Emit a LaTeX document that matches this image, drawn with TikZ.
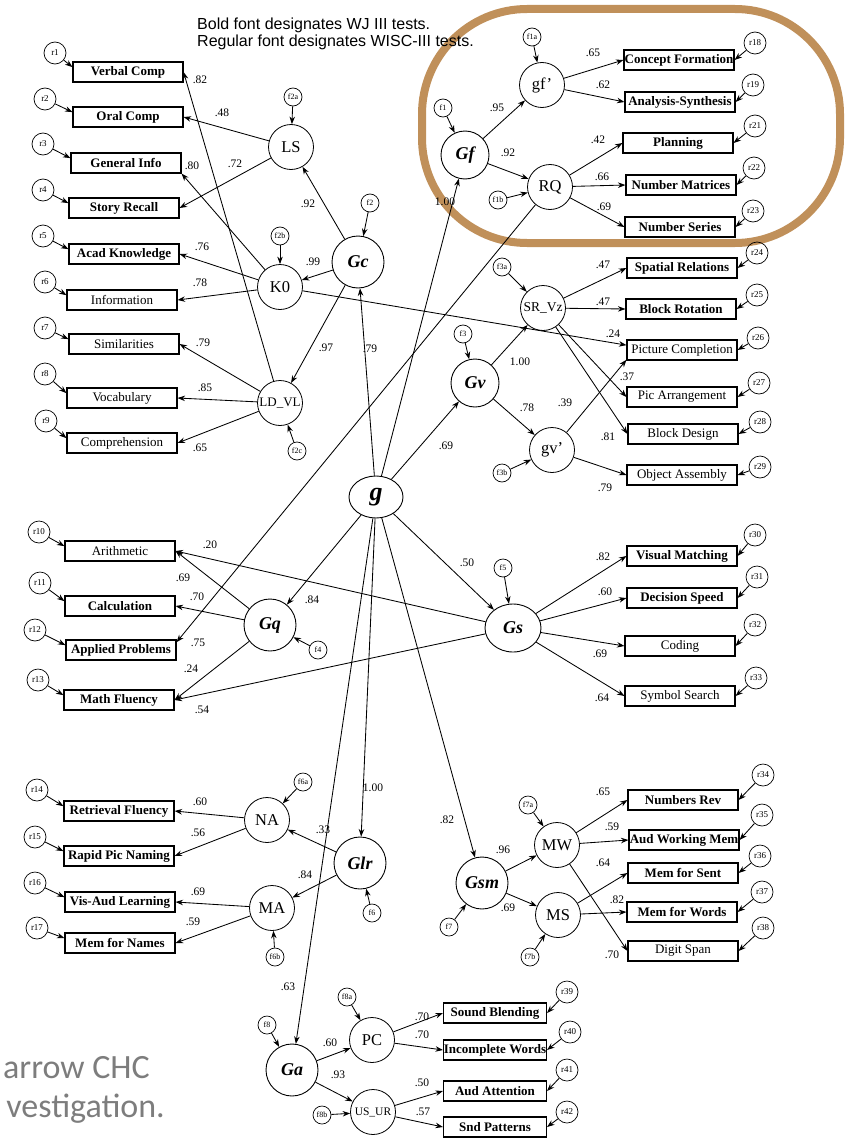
\documentclass[tikz,border=0pt]{standalone}
\usepackage{fontspec}
\setmainfont{Liberation Serif}
\newfontfamily\headfont{Liberation Sans}
\newfontfamily\notefont{Carlito}
\usetikzlibrary{arrows.meta,shapes.geometric}
\definecolor{ringbrown}{RGB}{192,144,90}
\definecolor{notegray}{RGB}{125,125,125}
\newcommand\coefat[3]{\node[coef] (#1) at (#2) {#3};}
\begin{document}
\begin{tikzpicture}[x=1pt,y=-1pt,
  every node/.style={inner sep=0pt},
  link/.style={-{Stealth[length=7.5pt,width=5.5pt]}, line width=0.85pt},
  test/.style={draw, line width=1.1pt, minimum width=110pt, minimum height=20pt,
    font=\fontsize{13}{13}\selectfont},
  wj/.style={test, font=\fontsize{13}{13}\selectfont\bfseries},
  wjs/.style={wj, minimum width=103pt},
  res/.style={circle, draw, line width=0.7pt, minimum size=22pt, font=\fontsize{9}{9}\selectfont},
  dist/.style={circle, draw, line width=0.7pt, minimum size=18pt, font=\fontsize{8}{8}\selectfont},
  narrow/.style={circle, draw, line width=0.8pt, minimum size=45pt, font=\fontsize{16.5}{16.5}\selectfont},
  broad/.style={circle, draw, line width=0.9pt, minimum size=52pt, font=\fontsize{18}{18}\selectfont\bfseries\itshape},
  coef/.style={font=\fontsize{11.5}{11.5}\selectfont}
]
\useasboundingbox (0,0) rectangle (846,1140);

% highlight ring around the Gf block
\draw[ringbrown, line width=8pt, rounded corners=105pt] (422,9) rectangle (840,243);

% legend
\node[anchor=north west, align=left, font=\headfont\fontsize{16}{17}\selectfont] (legend) at (197,18)
  {Bold font designates WJ III tests.\\Regular font designates WISC-III tests.};

% caption fragment
\node[anchor=base east, text=notegray, font=\notefont\fontsize{34}{34}\selectfont] (cap1) at (150,1078) {arrow CHC};
\node[anchor=base east, text=notegray, font=\notefont\fontsize{34}{34}\selectfont] (cap2) at (165,1117) {vestigation.};

% general factor
\node[ellipse, draw, line width=0.9pt, minimum width=54pt, minimum height=42pt,
  font=\fontsize{26}{26}\selectfont\bfseries\itshape] (g) at (376,497) {g};

% ---------- Gc ----------
\node[broad] (Gc) at (358,262) {Gc};
\node[dist] (f2) at (370,203) {f2};
\node[narrow] (LS) at (291,147) {LS};
\node[dist] (f2a) at (293,97) {f2a};
\node[narrow] (K0) at (280,287) {K0};
\node[dist] (f2b) at (280,236) {f2b};
\node[narrow, font=\fontsize{13}{13}\selectfont] (LDVL) at (280,403) {LD\_VL};
\node[dist] (f2c) at (297,451) {f2c};

\node[wj] (vc) at (128,72) {Verbal Comp};
\node[wj] (oc) at (128,117) {Oral Comp};
\node[wj] (gi) at (126,163) {General Info};
\node[wj] (sr) at (124,208) {Story Recall};
\node[wj] (ak) at (124,254) {Acad Knowledge};
\node[test] (inf) at (122,300) {Information};
\node[test] (sim) at (124,344) {Similarities};
\node[test] (voc) at (122,398) {Vocabulary};
\node[test] (com) at (122,443) {Comprehension};
\node[res] (r1) at (55,53) {r1};
\node[res] (r2) at (45,99) {r2};
\node[res] (r3) at (43,144) {r3};
\node[res] (r4) at (43,190) {r4};
\node[res] (r5) at (43,236) {r5};
\node[res] (r6) at (45,282) {r6};
\node[res] (r7) at (45,328) {r7};
\node[res] (r8) at (45,374) {r8};
\node[res] (r9) at (46,421) {r9};

% ---------- Gf ----------
\node[broad, minimum size=48pt] (Gf) at (465,155) {Gf};
\node[dist] (f1) at (443,108) {f1};
\node[narrow] (gfp) at (542,85) {gf'};
\node[dist] (f1a) at (532,37) {f1a};
\node[narrow] (RQ) at (550,187) {RQ};
\node[dist] (f1b) at (498,200) {f1b};
\node[wj] (cf) at (679,60) {Concept Formation};
\node[wj] (as) at (680,102) {Analysis-Synthesis};
\node[wj] (pl) at (678,143) {Planning};
\node[wj] (nm) at (681,185) {Number Matrices};
\node[wj] (ns) at (680,227) {Number Series};
\node[res] (r18) at (755,43) {r18};
\node[res] (r19) at (753,85) {r19};
\node[res] (r21) at (755,126) {r21};
\node[res] (r22) at (754,168) {r22};
\node[res] (r23) at (753,211) {r23};

% ---------- Gv ----------
\node[broad, minimum size=48pt] (Gv) at (475,383) {Gv};
\node[dist] (f3) at (463,334) {f3};
\node[narrow, font=\fontsize{13.5}{14}\selectfont] (SRVz) at (543,308) {SR\_Vz};
\node[dist] (f3a) at (502,267) {f3a};
\node[narrow] (gvp) at (552,450) {gv'};
\node[dist] (f3b) at (502,473) {f3b};
\node[wj] (spr) at (682,268) {Spatial Relations};
\node[wj] (br) at (681,309) {Block Rotation};
\node[test] (pc) at (682,350) {Picture Completion};
\node[test] (pa) at (682,397) {Pic Arrangement};
\node[test] (bd) at (683,434) {Block Design};
\node[test] (oa) at (682,475) {Object Assembly};
\node[res] (r24) at (757,253) {r24};
\node[res] (r25) at (757,295) {r25};
\node[res] (r26) at (758,338) {r26};
\node[res] (r27) at (759,383) {r27};
\node[res] (r28) at (760,422) {r28};
\node[res] (r29) at (760,467) {r29};

% ---------- Gs ----------
\node[ellipse, draw, line width=0.9pt, minimum width=56pt, minimum height=48pt,
  font=\fontsize{18}{18}\selectfont\bfseries\itshape] (Gs) at (513,628) {Gs};
\node[dist] (f5) at (503,568) {f5};
\node[wj] (vm) at (682,556) {Visual Matching};
\node[wj] (ds) at (682,598) {Decision Speed};
\node[test] (cod) at (680,646) {Coding};
\node[test] (ss) at (680,696) {Symbol Search};
\node[res] (r30) at (755,535) {r30};
\node[res] (r31) at (757,577) {r31};
\node[res] (r32) at (755,625) {r32};
\node[res] (r33) at (756,678) {r33};

% ---------- Gq ----------
\node[broad] (Gq) at (270,625) {Gq};
\node[dist] (f4) at (318,650) {f4};
\node[test] (ari) at (120,551) {Arithmetic};
\node[wj] (cal) at (120,606) {Calculation};
\node[wj] (ap) at (121,650) {Applied Problems};
\node[wj] (mf) at (119,700) {Math Fluency};
\node[res] (r10) at (39,532) {r10};
\node[res] (r11) at (40,583) {r11};
\node[res] (r12) at (35,630) {r12};
\node[res] (r13) at (38,680) {r13};

% ---------- Glr ----------
\node[broad] (Glr) at (360,863) {Glr};
\node[dist] (f6) at (372,913) {f6};
\node[narrow] (NA) at (267,820) {NA};
\node[dist] (f6a) at (303,782) {f6a};
\node[narrow] (MA) at (272,908) {MA};
\node[dist] (f6b) at (275,957) {f6b};
\node[wj] (rf) at (119,811) {Retrieval Fluency};
\node[wj] (rpn) at (119,856) {Rapid Pic Naming};
\node[wj] (val) at (120,902) {Vis-Aud Learning};
\node[wj] (mfn) at (120,943) {Mem for Names};
\node[res] (r14) at (37,790) {r14};
\node[res] (r15) at (35,837) {r15};
\node[res] (r16) at (35,883) {r16};
\node[res] (r17) at (37,928) {r17};

% ---------- Gsm ----------
\node[broad] (Gsm) at (482,883) {Gsm};
\node[dist] (f7) at (449,927) {f7};
\node[narrow] (MW) at (557,845) {MW};
\node[dist] (f7a) at (528,805) {f7a};
\node[narrow] (MS) at (558,915) {MS};
\node[dist] (f7b) at (530,957) {f7b};
\node[wj] (nr) at (683,800) {Numbers Rev};
\node[wj] (awm) at (684,840) {Aud Working Mem};
\node[wj] (mfs) at (683,873) {Mem for Sent};
\node[wj] (mfw) at (682,912) {Mem for Words};
\node[test] (dsp) at (683,951) {Digit Span};
\node[res] (r34) at (763,775) {r34};
\node[res] (r35) at (762,815) {r35};
\node[res] (r36) at (760,856) {r36};
\node[res] (r37) at (762,892) {r37};
\node[res] (r38) at (763,928) {r38};

% ---------- Ga ----------
\node[broad] (Ga) at (292,1070) {Ga};
\node[dist] (f8) at (267,1025) {f8};
\node[narrow] (PC) at (372,1040) {PC};
\node[dist] (f8a) at (347,997) {f8a};
\node[narrow, font=\fontsize{11.5}{12}\selectfont] (USUR) at (373,1112) {US\_UR};
\node[dist] (f8b) at (322,1115) {f8b};
\node[wjs] (sb) at (495,1013) {Sound Blending};
\node[wjs] (iw) at (495,1050) {Incomplete Words};
\node[wjs] (aa) at (495,1091) {Aud Attention};
\node[wjs] (snd) at (495,1127) {Snd Patterns};
\node[res] (r39) at (567,992) {r39};
\node[res] (r40) at (570,1032) {r40};
\node[res] (r41) at (567,1070) {r41};
\node[res] (r42) at (567,1112) {r42};

% ---------- paths from g ----------
\foreach \t in {Gf,Gc,Gv,Gq,Gs,Glr,Gsm,Ga} \draw[link] (g) -- (\t);

% Gc paths
\draw[link] (f2) -- (Gc);
\draw[link] (Gc) -- (LS);
\draw[link] (Gc) -- (K0);
\draw[link] (Gc) -- (LDVL);
\draw[link] (f2a) -- (LS);
\draw[link] (f2b) -- (K0);
\draw[link] (f2c) -- (LDVL);
\draw[link] (LS) -- (oc.east);
\draw[link] (LS) -- (sr.east);
\draw[link] (K0) -- (gi.south east);
\draw[link] (K0) -- (ak.east);
\draw[link] (K0) -- (inf.east);
\draw[link] (K0) -- (pc.175);
\draw[link] (LDVL) -- (vc.east);
\draw[link] (LDVL) -- (sim.east);
\draw[link] (LDVL) -- (voc.east);
\draw[link] (LDVL) -- (com.east);
\draw[link] (r1) -- (vc.175);
\draw[link] (r2) -- (oc.175);
\draw[link] (r3) -- (gi.175);
\draw[link] (r4) -- (sr.175);
\draw[link] (r5) -- (ak.175);
\draw[link] (r6) -- (inf.175);
\draw[link] (r7) -- (sim.175);
\draw[link] (r8) -- (voc.175);
\draw[link] (r9) -- (com.175);

% Gf paths
\draw[link] (f1) -- (Gf);
\draw[link] (Gf) -- (gfp);
\draw[link] (Gf) -- (RQ);
\draw[link] (f1a) -- (gfp);
\draw[link] (f1b) -- (RQ);
\draw[link] (gfp) -- (cf.west);
\draw[link] (gfp) -- (as.west);
\draw[link] (RQ) -- (pl.west);
\draw[link] (RQ) -- (nm.west);
\draw[link] (RQ) -- (ns.west);
\draw[link] (RQ) -- (ap.8);
\draw[link] (r18) -- (cf.east);
\draw[link] (r19) -- (as.east);
\draw[link] (r21) -- (pl.east);
\draw[link] (r22) -- (nm.east);
\draw[link] (r23) -- (ns.east);

% Gv paths
\draw[link] (f3) -- (Gv);
\draw[link] (Gv) -- (SRVz);
\draw[link] (Gv) -- (gvp);
\draw[link] (f3a) -- (SRVz);
\draw[link] (f3b) -- (gvp);
\draw[link] (SRVz) -- (spr.west);
\draw[link] (SRVz) -- (br.west);
\draw[link] (SRVz) -- (pa.west);
\draw[link] (SRVz) -- (bd.west);
\draw[link] (gvp) -- (pc.190);
\draw[link] (gvp) -- (oa.west);
\draw[link] (r24) -- (spr.east);
\draw[link] (r25) -- (br.east);
\draw[link] (r26) -- (pc.east);
\draw[link] (r27) -- (pa.east);
\draw[link] (r28) -- (bd.east);
\draw[link] (r29) -- (oa.east);

% Gs paths
\draw[link] (f5) -- (Gs);
\draw[link] (Gs) -- (vm.west);
\draw[link] (Gs) -- (ds.west);
\draw[link] (Gs) -- (cod.west);
\draw[link] (Gs) -- (ss.west);
\draw[link] (Gs) -- (ari.east);
\draw[link] (Gs) -- (mf.east);
\draw[link] (r30) -- (vm.east);
\draw[link] (r31) -- (ds.east);
\draw[link] (r32) -- (cod.east);
\draw[link] (r33) -- (ss.east);

% Gq paths
\draw[link] (f4) -- (Gq);
\draw[link] (Gq) -- (ari.east);
\draw[link] (Gq) -- (cal.east);
\draw[link] (Gq) -- (mf.east);
\draw[link] (r10) -- (ari.175);
\draw[link] (r11) -- (cal.175);
\draw[link] (r12) -- (ap.175);
\draw[link] (r13) -- (mf.175);

% Glr paths
\draw[link] (f6) -- (Glr);
\draw[link] (Glr) -- (NA);
\draw[link] (Glr) -- (MA);
\draw[link] (f6a) -- (NA);
\draw[link] (f6b) -- (MA);
\draw[link] (NA) -- (rf.east);
\draw[link] (NA) -- (rpn.east);
\draw[link] (MA) -- (val.east);
\draw[link] (MA) -- (mfn.east);
\draw[link] (r14) -- (rf.175);
\draw[link] (r15) -- (rpn.175);
\draw[link] (r16) -- (val.175);
\draw[link] (r17) -- (mfn.175);

% Gsm paths
\draw[link] (f7) -- (Gsm);
\draw[link] (Gsm) -- (MW);
\draw[link] (Gsm) -- (MS);
\draw[link] (f7a) -- (MW);
\draw[link] (f7b) -- (MS);
\draw[link] (MW) -- (nr.west);
\draw[link] (MW) -- (awm.west);
\draw[link] (MW) -- (dsp.west);
\draw[link] (MS) -- (mfs.west);
\draw[link] (MS) -- (mfw.west);
\draw[link] (r34) -- (nr.east);
\draw[link] (r35) -- (awm.east);
\draw[link] (r36) -- (mfs.east);
\draw[link] (r37) -- (mfw.east);
\draw[link] (r38) -- (dsp.east);

% Ga paths
\draw[link] (f8) -- (Ga);
\draw[link] (Ga) -- (PC);
\draw[link] (Ga) -- (USUR);
\draw[link] (f8a) -- (PC);
\draw[link] (f8b) -- (USUR);
\draw[link] (PC) -- (sb.west);
\draw[link] (PC) -- (iw.west);
\draw[link] (USUR) -- (aa.west);
\draw[link] (USUR) -- (snd.west);
\draw[link] (r39) -- (sb.east);
\draw[link] (r40) -- (iw.east);
\draw[link] (r41) -- (aa.east);
\draw[link] (r42) -- (snd.east);

% ---------- loadings ----------
\coefat{c1}{200,80}{.82}
\coefat{c2}{222,113}{.48}
\coefat{c3}{192,166}{.80}
\coefat{c4}{235,164}{.72}
\coefat{c5}{308,204}{.92}
\coefat{c6}{313,262}{.99}
\coefat{c7}{202,247}{.76}
\coefat{c8}{200,283}{.78}
\coefat{c9}{326,348}{.97}
\coefat{c10}{370,349}{.79}
\coefat{c11}{203,343}{.79}
\coefat{c12}{205,388}{.85}
\coefat{c13}{200,448}{.65}
\coefat{c14}{445,202}{1.00}
\coefat{c15}{497,108}{.95}
\coefat{c16}{508,153}{.92}
\coefat{c17}{593,53}{.65}
\coefat{c18}{603,85}{.62}
\coefat{c19}{598,140}{.42}
\coefat{c20}{602,177}{.66}
\coefat{c21}{604,207}{.69}
\coefat{c22}{198,643}{.75}
\coefat{c23}{446,446}{.69}
\coefat{c24}{520,362}{1.00}
\coefat{c25}{527,408}{.78}
\coefat{c26}{603,265}{.47}
\coefat{c27}{603,302}{.47}
\coefat{c28}{613,334}{.24}
\coefat{c29}{627,377}{.37}
\coefat{c30}{565,403}{.39}
\coefat{c31}{608,437}{.81}
\coefat{c32}{605,488}{.79}
\coefat{c33}{467,563}{.50}
\coefat{c34}{210,545}{.20}
\coefat{c35}{202,710}{.54}
\coefat{c36}{603,557}{.82}
\coefat{c37}{605,592}{.60}
\coefat{c38}{600,654}{.69}
\coefat{c39}{602,698}{.64}
\coefat{c40}{312,600}{.84}
\coefat{c41}{183,578}{.69}
\coefat{c42}{197,597}{.70}
\coefat{c43}{191,669}{.24}
\coefat{c44}{373,788}{1.00}
\coefat{c45}{323,830}{.33}
\coefat{c46}{305,875}{.84}
\coefat{c47}{200,802}{.60}
\coefat{c48}{198,833}{.56}
\coefat{c49}{198,892}{.69}
\coefat{c50}{193,922}{.59}
\coefat{c51}{447,820}{.82}
\coefat{c52}{503,850}{.96}
\coefat{c53}{508,908}{.69}
\coefat{c54}{603,792}{.65}
\coefat{c55}{612,827}{.59}
\coefat{c56}{612,955}{.70}
\coefat{c57}{603,863}{.64}
\coefat{c58}{617,900}{.82}
\coefat{c59}{288,987}{.63}
\coefat{c60}{330,1043}{.60}
\coefat{c61}{338,1075}{.93}
\coefat{c62}{422,1017}{.70}
\coefat{c63}{422,1035}{.70}
\coefat{c64}{422,1083}{.50}
\coefat{c65}{423,1112}{.57}
\end{tikzpicture}
\end{document}
